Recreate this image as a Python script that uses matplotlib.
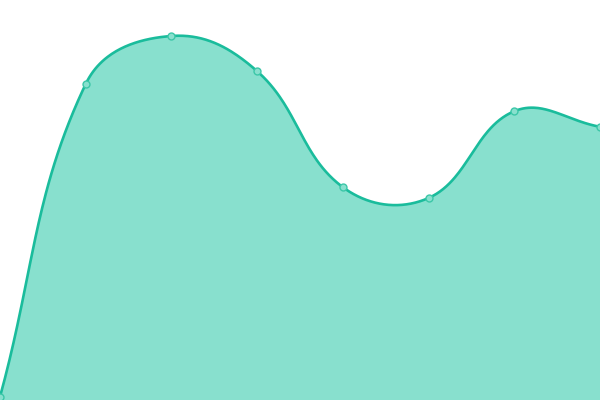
import numpy as np
import matplotlib.pyplot as plt

# valeurs (échelle 0-100)
labels = ['1', '2', '3', '4', '5', '6', '7', '8']
values = [0.8, 79, 91, 82.2, 53.2, 50.5, 72.2, 68.3]

W, H = 600, 400
tension = 0.4

fig = plt.figure(figsize=(6, 4), dpi=100)
ax = fig.add_axes([0, 0, 1, 1])
ax.set_xlim(0, len(values) - 1)
ax.set_ylim(0, 100)
ax.axis('off')

# points en pixels pour calculer les points de contrôle (comme Chart.js)
xs = np.arange(len(values)) * W / (len(values) - 1)
ys = H - np.array(values) * H / 100
pts = np.column_stack([xs, ys])

cp_before = []
cp_after = []
for i in range(len(pts)):
    prev = pts[i - 1] if i > 0 else pts[i]
    cur = pts[i]
    nxt = pts[i + 1] if i < len(pts) - 1 else pts[i]
    d01 = np.hypot(*(cur - prev))
    d12 = np.hypot(*(nxt - cur))
    s01 = d01 / (d01 + d12)
    s12 = d12 / (d01 + d12)
    fa = tension * s01
    fb = tension * s12
    cp_before.append(cur - fa * (nxt - prev))
    cp_after.append(cur + fb * (nxt - prev))

curve = []
t = np.linspace(0, 1, 60)[:, None]
for i in range(len(pts) - 1):
    p0, p1, p2, p3 = pts[i], cp_after[i], cp_before[i + 1], pts[i + 1]
    seg = (1 - t) ** 3 * p0 + 3 * (1 - t) ** 2 * t * p1 + 3 * (1 - t) * t ** 2 * p2 + t ** 3 * p3
    curve.append(seg)
curve = np.vstack(curve)

# retour en coordonnées des données
cx = curve[:, 0] * (len(values) - 1) / W
cy = (H - curve[:, 1]) * 100 / H

ax.fill_between(cx, cy, 0, color='#88e0ce', lw=0)
ax.plot(cx, cy, color='#1abc9c', lw=1.9, solid_capstyle='round')
ax.plot(np.arange(len(values)), values, 'o', ms=5, mfc='#88e0ce', mec='#3cc7a8', mew=1)

fig.savefig('out.png', dpi=100)
